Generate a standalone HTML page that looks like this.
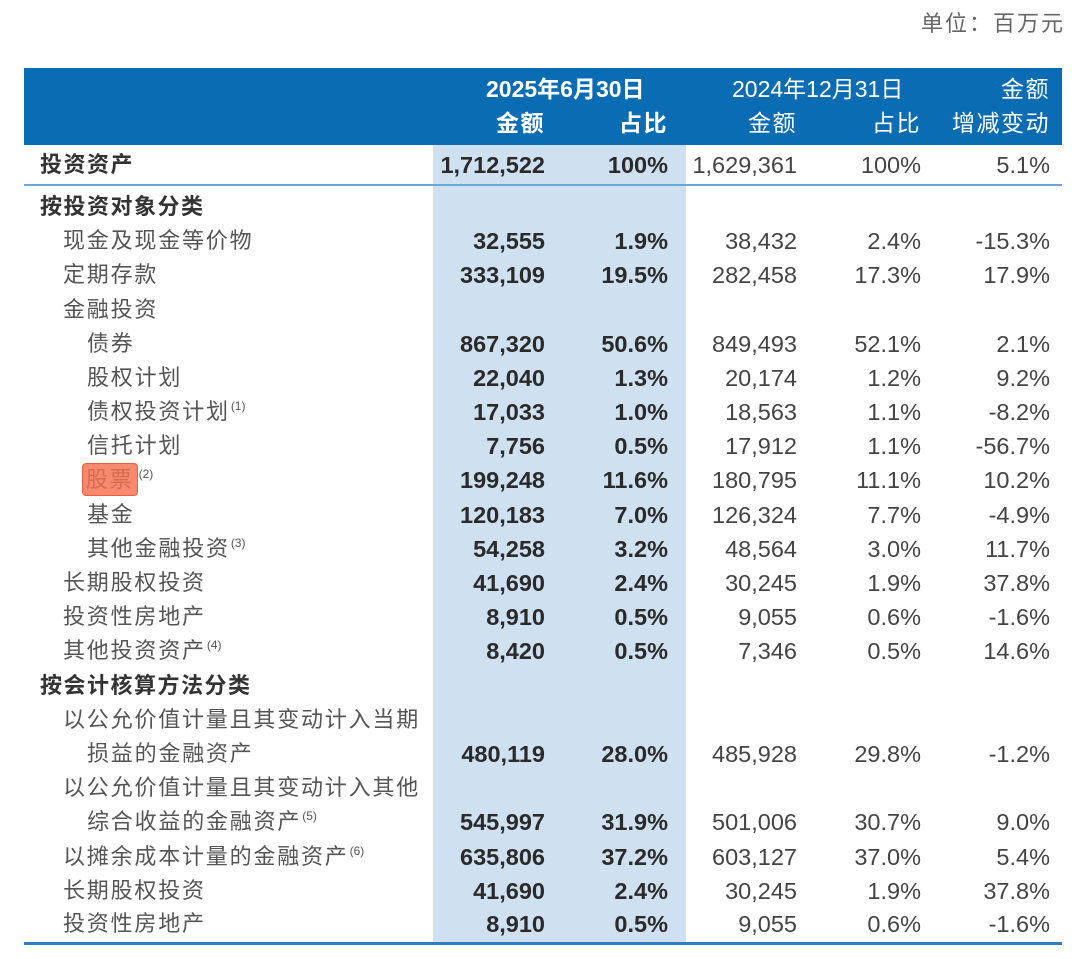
<!DOCTYPE html>
<html><head><meta charset="utf-8">
<style>
body{margin:0;width:1080px;height:959px;background:#fff;position:relative;overflow:hidden;font-family:"Liberation Sans","Noto Sans CJK SC",sans-serif;color:#3a3a3a;}
.unit{position:absolute;right:15px;top:6px;font-size:22px;color:#666;letter-spacing:2px;}
.hdr{position:absolute;left:24px;top:68px;width:1038px;height:77px;background:#0a6db4;}
.hl{position:absolute;left:433px;top:145px;width:253px;height:798px;background:#cfe0f1;}
.l1{position:absolute;left:24px;top:184px;width:1038px;height:2px;background:#6aa6d6;}
.l2{position:absolute;left:24px;top:942px;width:1038px;height:3px;background:#2d7fc1;}
.h{position:absolute;color:#fff;font-size:23px;line-height:30px;white-space:nowrap;}
.hc{letter-spacing:1.5px;}
.r{position:absolute;left:0;width:1080px;height:34px;line-height:34px;font-size:23.5px;white-space:nowrap;}
.r span{position:absolute;}
.t{left:40px;font-weight:bold;color:#333;font-size:22px;letter-spacing:1.5px;}
.s1{left:63px;color:#555;font-size:22px;letter-spacing:1.8px;}
.s2{left:87px;color:#555;font-size:22px;letter-spacing:1.8px;}
.a{right:535px;font-weight:bold;color:#2a2a2a;}
.b{right:412px;font-weight:bold;color:#2a2a2a;}
.c{right:283px;color:#444;}
.d{right:159px;color:#444;}
.e{right:30px;color:#444;}
sup{font-size:12px;vertical-align:top;line-height:22px;margin-left:1px;letter-spacing:0;}
.mark{background:#f7896f;border:1px solid #e8603f;border-radius:4px;padding:0 3px;margin-left:-5px;color:#d86a50;display:inline-block;height:31px;line-height:31px;}
</style></head><body>
<div class="unit">单位：百万元</div>
<div class="hdr"></div>
<div class="hl"></div>
<div class="l1"></div>
<div class="l2"></div>
<div class="h" style="left:486px;top:74px;font-weight:bold">2025年6月30日</div>
<div class="h hc" style="right:535px;top:108px;font-weight:bold">金额</div>
<div class="h hc" style="right:412px;top:108px;font-weight:bold">占比</div>
<div class="h" style="left:732px;top:74px">2024年12月31日</div>
<div class="h hc" style="right:283px;top:108px">金额</div>
<div class="h hc" style="right:159px;top:108px">占比</div>
<div class="h hc" style="right:30px;top:74px">金额</div>
<div class="h hc" style="right:30px;top:108px">增减变动</div>

<div class="r" style="top:148px"><span class="t">投资资产</span><span class="a">1,712,522</span><span class="b">100%</span><span class="c">1,629,361</span><span class="d">100%</span><span class="e">5.1%</span></div>
<div class="r" style="top:190px"><span class="t">按投资对象分类</span></div>
<div class="r" style="top:224px"><span class="s1">现金及现金等价物</span><span class="a">32,555</span><span class="b">1.9%</span><span class="c">38,432</span><span class="d">2.4%</span><span class="e">-15.3%</span></div>
<div class="r" style="top:258px"><span class="s1">定期存款</span><span class="a">333,109</span><span class="b">19.5%</span><span class="c">282,458</span><span class="d">17.3%</span><span class="e">17.9%</span></div>
<div class="r" style="top:293px"><span class="s1">金融投资</span></div>
<div class="r" style="top:327px"><span class="s2">债券</span><span class="a">867,320</span><span class="b">50.6%</span><span class="c">849,493</span><span class="d">52.1%</span><span class="e">2.1%</span></div>
<div class="r" style="top:361px"><span class="s2">股权计划</span><span class="a">22,040</span><span class="b">1.3%</span><span class="c">20,174</span><span class="d">1.2%</span><span class="e">9.2%</span></div>
<div class="r" style="top:395px"><span class="s2">债权投资计划<sup>(1)</sup></span><span class="a">17,033</span><span class="b">1.0%</span><span class="c">18,563</span><span class="d">1.1%</span><span class="e">-8.2%</span></div>
<div class="r" style="top:429px"><span class="s2">信托计划</span><span class="a">7,756</span><span class="b">0.5%</span><span class="c">17,912</span><span class="d">1.1%</span><span class="e">-56.7%</span></div>
<div class="r" style="top:463px"><span class="s2"><span class="mark" style="position:static">股票</span><sup>(2)</sup></span><span class="a">199,248</span><span class="b">11.6%</span><span class="c">180,795</span><span class="d">11.1%</span><span class="e">10.2%</span></div>
<div class="r" style="top:498px"><span class="s2">基金</span><span class="a">120,183</span><span class="b">7.0%</span><span class="c">126,324</span><span class="d">7.7%</span><span class="e">-4.9%</span></div>
<div class="r" style="top:532px"><span class="s2">其他金融投资<sup>(3)</sup></span><span class="a">54,258</span><span class="b">3.2%</span><span class="c">48,564</span><span class="d">3.0%</span><span class="e">11.7%</span></div>
<div class="r" style="top:566px"><span class="s1">长期股权投资</span><span class="a">41,690</span><span class="b">2.4%</span><span class="c">30,245</span><span class="d">1.9%</span><span class="e">37.8%</span></div>
<div class="r" style="top:600px"><span class="s1">投资性房地产</span><span class="a">8,910</span><span class="b">0.5%</span><span class="c">9,055</span><span class="d">0.6%</span><span class="e">-1.6%</span></div>
<div class="r" style="top:634px"><span class="s1">其他投资资产<sup>(4)</sup></span><span class="a">8,420</span><span class="b">0.5%</span><span class="c">7,346</span><span class="d">0.5%</span><span class="e">14.6%</span></div>
<div class="r" style="top:669px"><span class="t">按会计核算方法分类</span></div>
<div class="r" style="top:703px"><span class="s1">以公允价值计量且其变动计入当期</span></div>
<div class="r" style="top:737px"><span class="s2">损益的金融资产</span><span class="a">480,119</span><span class="b">28.0%</span><span class="c">485,928</span><span class="d">29.8%</span><span class="e">-1.2%</span></div>
<div class="r" style="top:771px"><span class="s1">以公允价值计量且其变动计入其他</span></div>
<div class="r" style="top:805px"><span class="s2">综合收益的金融资产<sup>(5)</sup></span><span class="a">545,997</span><span class="b">31.9%</span><span class="c">501,006</span><span class="d">30.7%</span><span class="e">9.0%</span></div>
<div class="r" style="top:840px"><span class="s1">以摊余成本计量的金融资产<sup>(6)</sup></span><span class="a">635,806</span><span class="b">37.2%</span><span class="c">603,127</span><span class="d">37.0%</span><span class="e">5.4%</span></div>
<div class="r" style="top:874px"><span class="s1">长期股权投资</span><span class="a">41,690</span><span class="b">2.4%</span><span class="c">30,245</span><span class="d">1.9%</span><span class="e">37.8%</span></div>
<div class="r" style="top:907px"><span class="s1">投资性房地产</span><span class="a">8,910</span><span class="b">0.5%</span><span class="c">9,055</span><span class="d">0.6%</span><span class="e">-1.6%</span></div>
</body></html>
